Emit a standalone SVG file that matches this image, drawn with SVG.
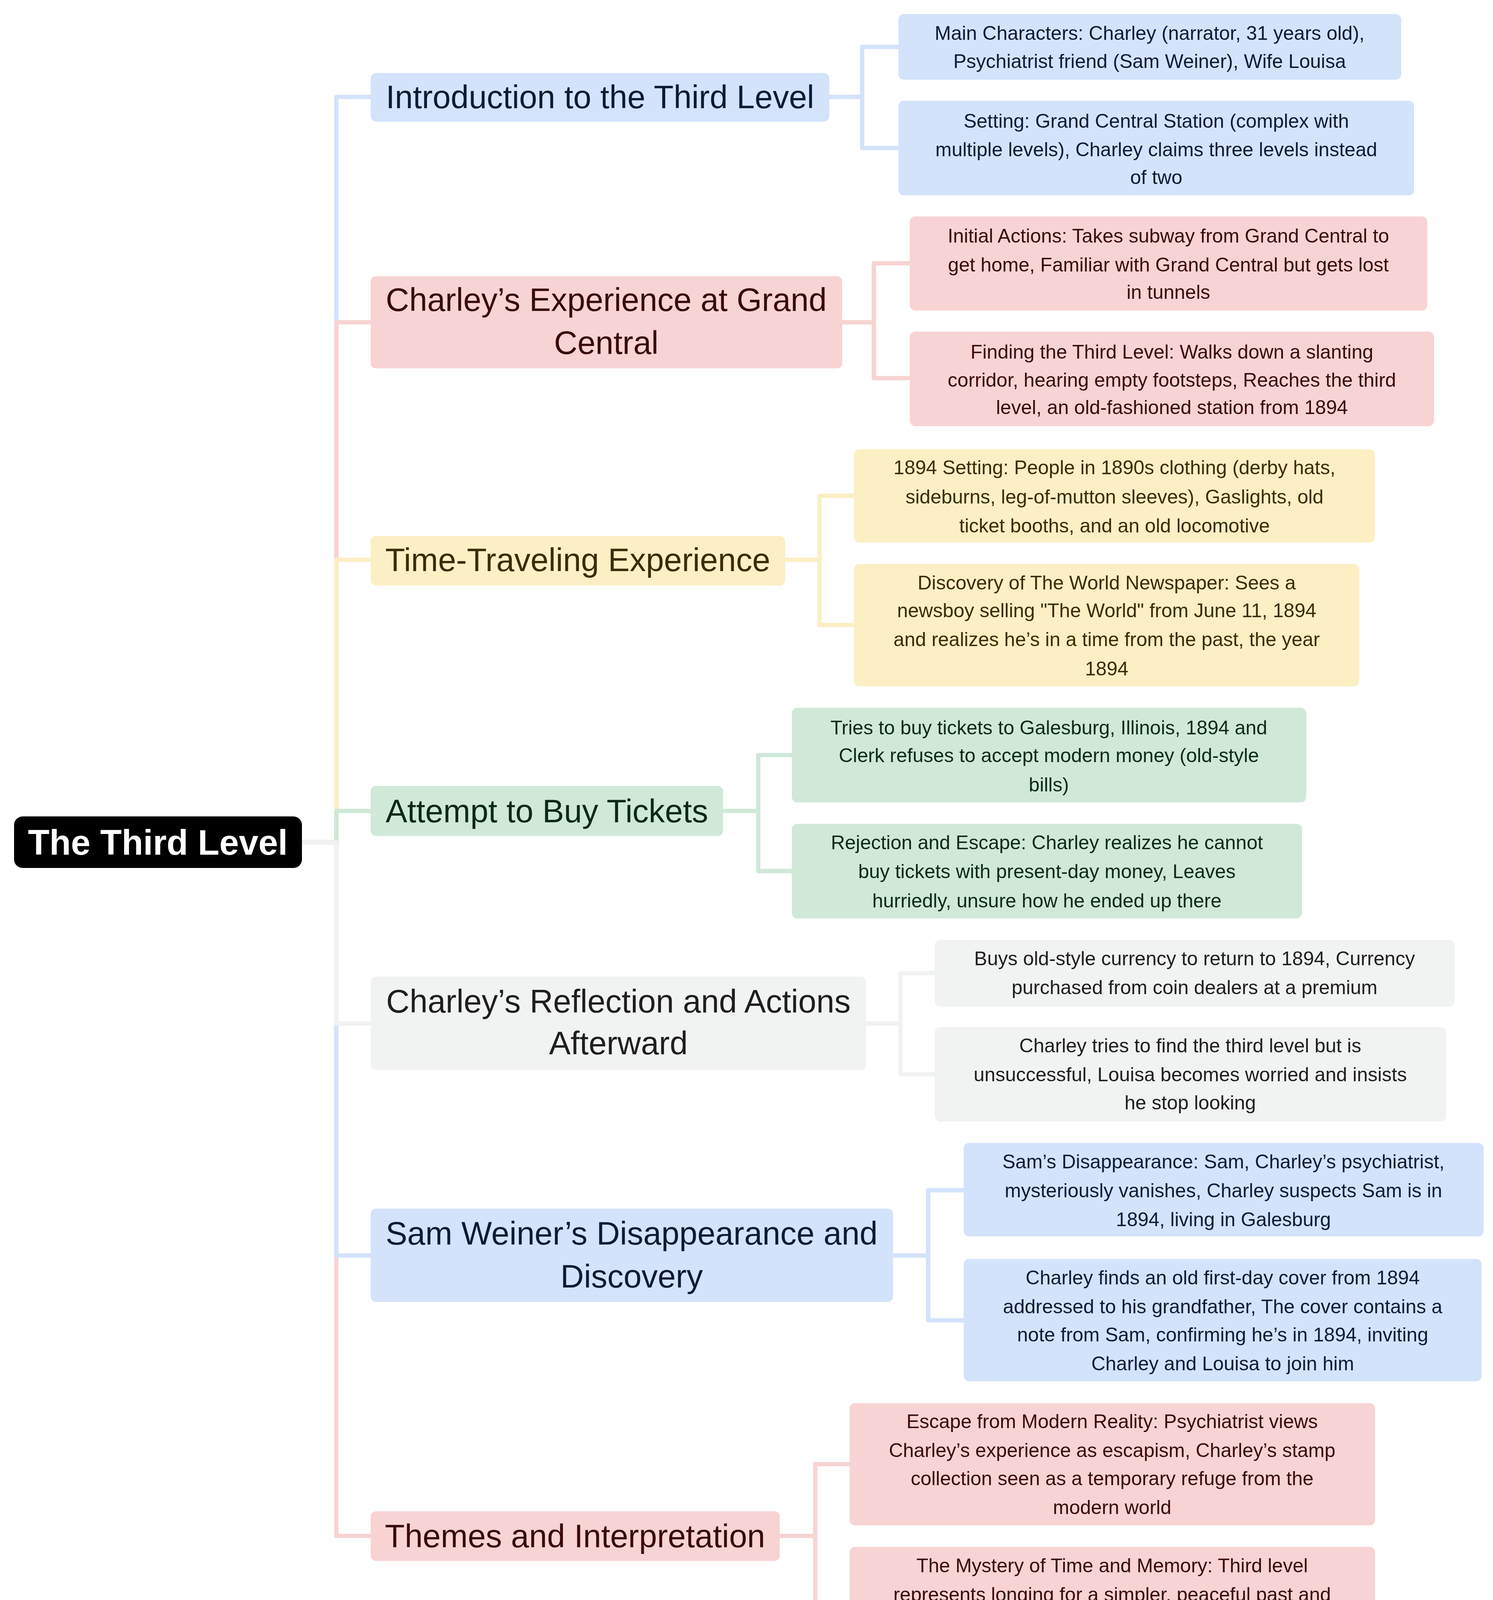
<svg xmlns="http://www.w3.org/2000/svg" width="3822" height="4298" viewBox="0 0 3822 4298">
<style>
text{font-family:"Liberation Sans",Arial,sans-serif;text-anchor:middle}
.l1{font-size:83px}
.lf{font-size:50px}
.e{fill:none;stroke-width:11;stroke-linejoin:round}
.b{fill:#d3e3fc}.bs{stroke:#d3e3fc}.bt{fill:#0d1b33}
.r{fill:#f8d3d3}.rs{stroke:#f8d3d3}.rt{fill:#3a0a0a}
.y{fill:#fdefc4}.ys{stroke:#fdefc4}.yt{fill:#3a2c05}
.g{fill:#cfe8d8}.gs{stroke:#cfe8d8}.gt{fill:#0b2a15}
.k{fill:#f1f2f2}.ks{stroke:#f1f2f2}.kt{fill:#1e1e1e}
</style>
<g id="connectors">
<path class="e rs" d="M773 2156H861V3932H949"/>
<path class="e bs" d="M773 2156H861V248H949"/>
<path class="e bs" d="M773 2156H861V3214H949"/>
<path class="e rs" d="M773 2156H861V825H949"/>
<path class="e ys" d="M773 2156H861V1433H949"/>
<path class="e gs" d="M773 2156H861V2076H949"/>
<path class="e ks" d="M773 2156H861V2620H949"/>
<path class="e bs" d="M2123 248H2207V120H2302M2207 248V379H2302"/>
<path class="e rs" d="M2156 825H2237V674H2329M2237 825V968H2329"/>
<path class="e ys" d="M2010 1433H2098V1269H2186M2098 1433V1600H2186"/>
<path class="e gs" d="M1851 2076H1941V1933H2027M1941 2076V2230H2027"/>
<path class="e ks" d="M2217 2620H2305V2491H2393M2305 2620V2750H2393"/>
<path class="e bs" d="M2286 3214H2376V3047H2467M2376 3214V3380H2467"/>
<path class="e rs" d="M1996 3932H2087V3748H2175M2087 3932V4117H2175"/>
</g>
<g id="root"><rect x="36" y="2090" width="737" height="132" rx="22" fill="#000"/><text x="404" y="2188" font-size="90" font-weight="bold" fill="#fff">The Third Level</text></g>
<g id="n1"><rect class="b" x="949" y="187" width="1174" height="124" rx="14"/><text class="l1 bt" x="1536" y="277">Introduction to the Third Level</text></g>
<g id="n1a"><rect class="b" x="2300" y="36" width="1287" height="168" rx="14"/><text class="lf bt"><tspan x="2943" y="102">Main Characters: Charley (narrator, 31 years old),</tspan><tspan x="2943" y="174">Psychiatrist friend (Sam Weiner), Wife Louisa</tspan></text></g>
<g id="n1b"><rect class="b" x="2300" y="258" width="1320" height="242" rx="14"/><text class="lf bt"><tspan x="2960" y="327">Setting: Grand Central Station (complex with</tspan><tspan x="2960" y="400">multiple levels), Charley claims three levels instead</tspan><tspan x="2960" y="471">of two</tspan></text></g>
<g id="n2"><rect class="r" x="949" y="707" width="1207" height="236" rx="14"/><text class="l1 rt"><tspan x="1552" y="796">Charley’s Experience at Grand</tspan><tspan x="1552" y="906">Central</tspan></text></g>
<g id="n2a"><rect class="r" x="2329" y="554" width="1325" height="241" rx="14"/><text class="lf rt"><tspan x="2991" y="621">Initial Actions: Takes subway from Grand Central to</tspan><tspan x="2991" y="695">get home, Familiar with Grand Central but gets lost</tspan><tspan x="2991" y="765">in tunnels</tspan></text></g>
<g id="n2b"><rect class="r" x="2329" y="849" width="1342" height="242" rx="14"/><text class="lf rt"><tspan x="3000" y="918">Finding the Third Level: Walks down a slanting</tspan><tspan x="3000" y="990">corridor, hearing empty footsteps, Reaches the third</tspan><tspan x="3000" y="1060">level, an old-fashioned station from 1894</tspan></text></g>
<g id="n3"><rect class="y" x="949" y="1372" width="1061" height="127" rx="14"/><text class="l1 yt" x="1479" y="1462">Time-Traveling Experience</text></g>
<g id="n3a"><rect class="y" x="2186" y="1150" width="1334" height="239" rx="14"/><text class="lf yt"><tspan x="2853" y="1214">1894 Setting: People in 1890s clothing (derby hats,</tspan><tspan x="2853" y="1289">sideburns, leg-of-mutton sleeves), Gaslights, old</tspan><tspan x="2853" y="1363">ticket booths, and an old locomotive</tspan></text></g>
<g id="n3b"><rect class="y" x="2186" y="1444" width="1294" height="313" rx="14"/><text class="lf yt"><tspan x="2833" y="1509">Discovery of The World Newspaper: Sees a</tspan><tspan x="2833" y="1580">newsboy selling "The World" from June 11, 1894</tspan><tspan x="2833" y="1654">and realizes he’s in a time from the past, the year</tspan><tspan x="2833" y="1729">1894</tspan></text></g>
<g id="n4"><rect class="g" x="949" y="2012" width="902" height="128" rx="14"/><text class="l1 gt" x="1400" y="2105">Attempt to Buy Tickets</text></g>
<g id="n4a"><rect class="g" x="2027" y="1812" width="1317" height="242" rx="14"/><text class="lf gt"><tspan x="2685" y="1880">Tries to buy tickets to Galesburg, Illinois, 1894 and</tspan><tspan x="2685" y="1951">Clerk refuses to accept modern money (old-style</tspan><tspan x="2685" y="2026">bills)</tspan></text></g>
<g id="n4b"><rect class="g" x="2027" y="2109" width="1306" height="242" rx="14"/><text class="lf gt"><tspan x="2680" y="2174">Rejection and Escape: Charley realizes he cannot</tspan><tspan x="2680" y="2248">buy tickets with present-day money, Leaves</tspan><tspan x="2680" y="2323">hurriedly, unsure how he ended up there</tspan></text></g>
<g id="n5"><rect class="k" x="949" y="2500" width="1268" height="239" rx="14"/><text class="l1 kt"><tspan x="1583" y="2592">Charley’s Reflection and Actions</tspan><tspan x="1583" y="2699">Afterward</tspan></text></g>
<g id="n5a"><rect class="k" x="2393" y="2406" width="1331" height="171" rx="14"/><text class="lf kt"><tspan x="3058" y="2471">Buys old-style currency to return to 1894, Currency</tspan><tspan x="3058" y="2545">purchased from coin dealers at a premium</tspan></text></g>
<g id="n5b"><rect class="k" x="2393" y="2629" width="1309" height="242" rx="14"/><text class="lf kt"><tspan x="3047" y="2694">Charley tries to find the third level but is</tspan><tspan x="3047" y="2768">unsuccessful, Louisa becomes worried and insists</tspan><tspan x="3047" y="2840">he stop looking</tspan></text></g>
<g id="n6"><rect class="b" x="949" y="3094" width="1337" height="239" rx="14"/><text class="l1 bt"><tspan x="1617" y="3186">Sam Weiner’s Disappearance and</tspan><tspan x="1617" y="3296">Discovery</tspan></text></g>
<g id="n6a"><rect class="b" x="2467" y="2926" width="1331" height="239" rx="14"/><text class="lf bt"><tspan x="3132" y="2991">Sam’s Disappearance: Sam, Charley’s psychiatrist,</tspan><tspan x="3132" y="3065">mysteriously vanishes, Charley suspects Sam is in</tspan><tspan x="3132" y="3139">1894, living in Galesburg</tspan></text></g>
<g id="n6b"><rect class="b" x="2467" y="3223" width="1326" height="313" rx="14"/><text class="lf bt"><tspan x="3130" y="3288">Charley finds an old first-day cover from 1894</tspan><tspan x="3130" y="3362">addressed to his grandfather, The cover contains a</tspan><tspan x="3130" y="3434">note from Sam, confirming he’s in 1894, inviting</tspan><tspan x="3130" y="3508">Charley and Louisa to join him</tspan></text></g>
<g id="n7"><rect class="r" x="949" y="3869" width="1047" height="127" rx="14"/><text class="l1 rt" x="1472" y="3961">Themes and Interpretation</text></g>
<g id="n7a"><rect class="r" x="2175" y="3592" width="1345" height="313" rx="14"/><text class="lf rt"><tspan x="2847" y="3656">Escape from Modern Reality: Psychiatrist views</tspan><tspan x="2847" y="3730">Charley’s experience as escapism, Charley’s stamp</tspan><tspan x="2847" y="3802">collection seen as a temporary refuge from the</tspan><tspan x="2847" y="3876">modern world</tspan></text></g>
<g id="n7b"><rect class="r" x="2175" y="3960" width="1345" height="313" rx="14"/><text class="lf rt"><tspan x="2847" y="4025">The Mystery of Time and Memory: Third level</tspan><tspan x="2847" y="4099">represents longing for a simpler, peaceful past and</tspan><tspan x="2847" y="4171">Time-traveling theme suggests an escape from fear</tspan><tspan x="2847" y="4245">and uncertainty in the modern world</tspan></text></g>
</svg>
